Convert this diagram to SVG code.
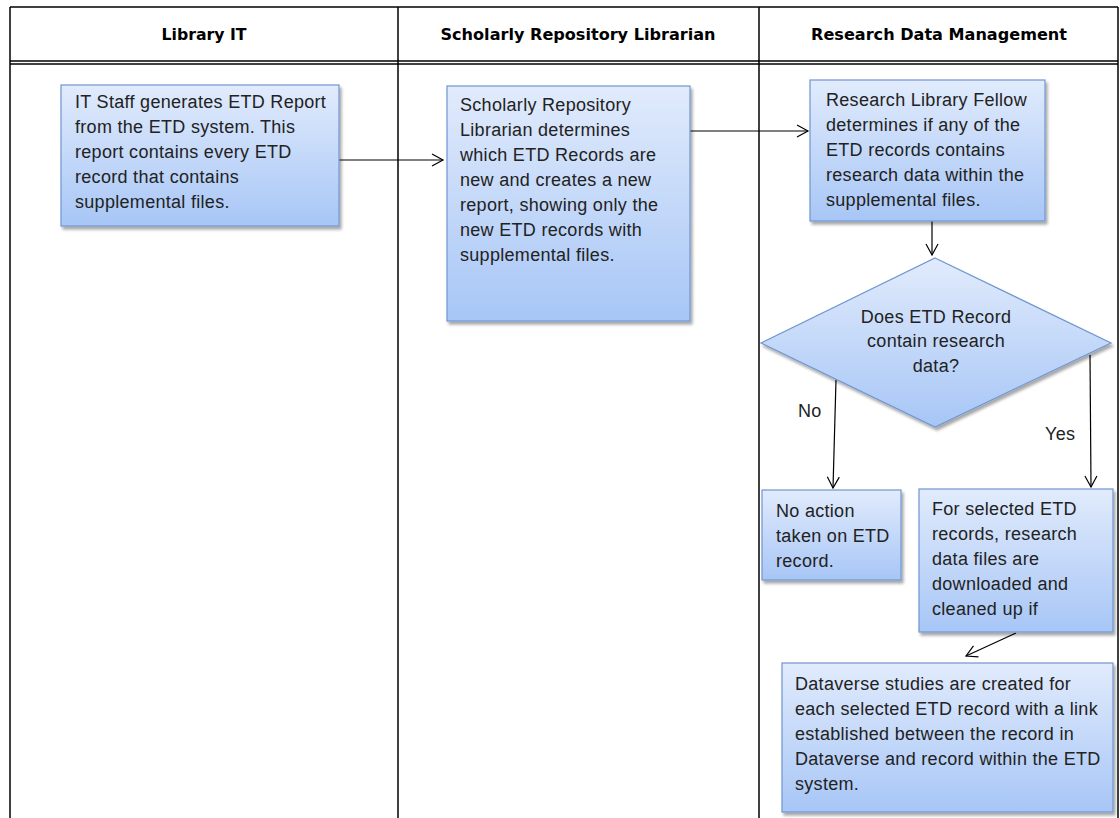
<svg xmlns="http://www.w3.org/2000/svg" width="1120" height="818" viewBox="0 0 1120 818">
<defs>
<linearGradient id="g" x1="0" y1="0" x2="0" y2="1">
<stop offset="0" stop-color="#e1ebfc"/>
<stop offset="1" stop-color="#a7c6f6"/>
</linearGradient>
<filter id="sh" x="-10%" y="-10%" width="130%" height="130%">
<feGaussianBlur in="SourceAlpha" stdDeviation="1.5"/>
<feOffset dx="2" dy="3"/>
<feComponentTransfer><feFuncA type="linear" slope="0.35"/></feComponentTransfer>
<feMerge><feMergeNode/><feMergeNode in="SourceGraphic"/></feMerge>
</filter>
<marker id="arr" markerWidth="14" markerHeight="14" refX="12" refY="7" orient="auto" markerUnits="userSpaceOnUse">
<polyline points="1,1 12,7 1,13" fill="none" stroke="#000" stroke-width="1.2"/>
</marker>
</defs>
<style>
.lane{stroke:#000;stroke-width:1.5;fill:none}
.hd{font-family:"DejaVu Sans",sans-serif;font-stretch:condensed;font-weight:bold;font-size:15.5px;fill:#000;text-anchor:middle}
.box{fill:url(#g);stroke:#7096d0;stroke-width:1.2;filter:url(#sh)}
.t{font-family:"Liberation Sans",Arial,sans-serif;font-size:18px;letter-spacing:0.3px;fill:#222}
.c{text-anchor:middle}
.cn{stroke:#000;stroke-width:1.2;fill:none;marker-end:url(#arr)}
</style>
<rect width="1120" height="818" fill="#fff"/>
<g id="lanes">
<line class="lane" x1="10" y1="7" x2="1118" y2="7"/>
<line class="lane" x1="10" y1="7" x2="10" y2="818"/>
<line class="lane" x1="1118" y1="7" x2="1118" y2="818"/>
<line class="lane" x1="398" y1="7" x2="398" y2="818"/>
<line class="lane" x1="759" y1="7" x2="759" y2="818"/>
<line class="lane" x1="10" y1="61" x2="1118" y2="61"/>
<line class="lane" x1="10" y1="64" x2="1118" y2="64" stroke-width="1"/>
<text class="hd" x="204" y="40" textLength="85" lengthAdjust="spacingAndGlyphs">Library IT</text>
<text class="hd" x="578" y="40" textLength="275" lengthAdjust="spacingAndGlyphs">Scholarly  Repository Librarian</text>
<text class="hd" x="939" y="40" textLength="256" lengthAdjust="spacingAndGlyphs">Research Data Management</text>
</g>
<g id="connectors">
<line class="cn" x1="339" y1="160" x2="443" y2="160"/>
<line class="cn" x1="690" y1="131" x2="808" y2="131"/>
<line class="cn" x1="932" y1="221" x2="932" y2="255"/>
<line class="cn" x1="836" y1="380" x2="833" y2="488"/>
<line class="cn" x1="1090" y1="355" x2="1091" y2="487"/>
<line class="cn" x1="1016" y1="633" x2="966" y2="656"/>
<text class="t" x="798" y="417">No</text>
<text class="t" x="1045" y="440">Yes</text>
</g>
<g id="n1">
<rect class="box" x="61" y="85" width="278" height="141"/>
<text class="t" x="75" y="108">IT Staff generates ETD Report</text>
<text class="t" x="75" y="133">from the ETD system. This</text>
<text class="t" x="75" y="158">report contains every ETD</text>
<text class="t" x="75" y="183">record that contains</text>
<text class="t" x="75" y="208">supplemental files.</text>
</g>
<g id="n2">
<rect class="box" x="447" y="86" width="243" height="235"/>
<text class="t" x="460" y="111">Scholarly Repository</text>
<text class="t" x="460" y="136">Librarian  determines</text>
<text class="t" x="460" y="161">which ETD Records are</text>
<text class="t" x="460" y="186">new and creates a new</text>
<text class="t" x="460" y="211">report, showing only the</text>
<text class="t" x="460" y="236">new ETD records with</text>
<text class="t" x="460" y="261">supplemental files.</text>
</g>
<g id="n3">
<rect class="box" x="810" y="80" width="235" height="141"/>
<text class="t" x="826" y="106">Research Library Fellow</text>
<text class="t" x="826" y="131">determines if any of the</text>
<text class="t" x="826" y="156">ETD records contains</text>
<text class="t" x="826" y="181">research data within the</text>
<text class="t" x="826" y="206">supplemental files.</text>
</g>
<g id="n4">
<polygon class="box" points="935,258 1111,343 935,427 761,343"/>
<text class="t c" x="936" y="323">Does ETD Record</text>
<text class="t c" x="936" y="347">contain  research</text>
<text class="t c" x="936" y="372">data?</text>
</g>
<g id="n5">
<rect class="box" x="762" y="490" width="139" height="90"/>
<text class="t" x="776" y="517">No action</text>
<text class="t" x="776" y="542">taken on ETD</text>
<text class="t" x="776" y="567">record.</text>
</g>
<g id="n6">
<rect class="box" x="919" y="489" width="194" height="143"/>
<text class="t" x="932" y="515">For selected ETD</text>
<text class="t" x="932" y="540">records, research</text>
<text class="t" x="932" y="565">data files are</text>
<text class="t" x="932" y="590">downloaded and</text>
<text class="t" x="932" y="615">cleaned up if</text>
</g>
<g id="n7">
<rect class="box" x="782" y="663" width="331" height="149"/>
<text class="t" x="795" y="690">Dataverse studies are created for</text>
<text class="t" x="795" y="715">each selected ETD record with a link</text>
<text class="t" x="795" y="740">established between the record in</text>
<text class="t" x="795" y="765">Dataverse and record within the ETD</text>
<text class="t" x="795" y="790">system.</text>
</g>
</svg>
